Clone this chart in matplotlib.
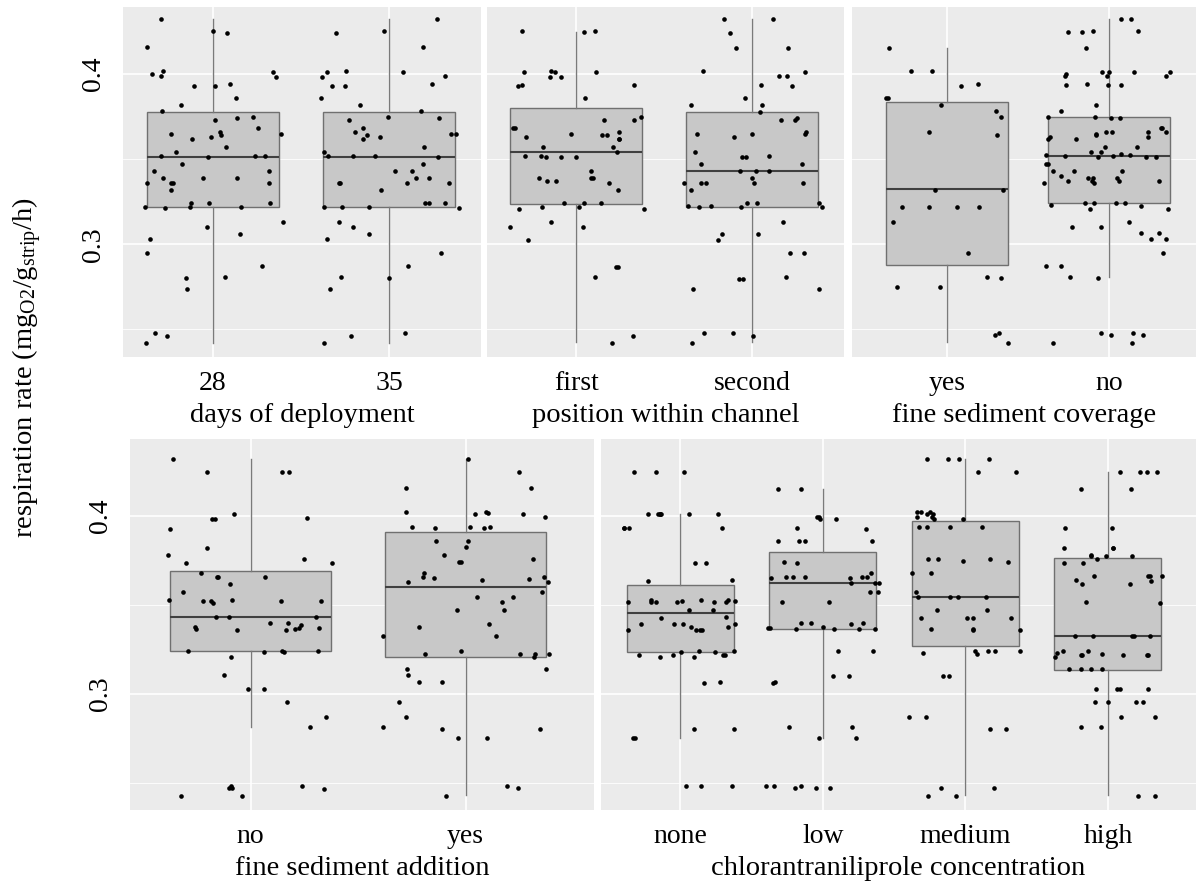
import numpy as np
import matplotlib
matplotlib.use("Agg")
import matplotlib.pyplot as plt

plt.rcParams['font.family'] = ['Liberation Serif', 'DejaVu Serif']
plt.rcParams['mathtext.fontset'] = 'custom'
plt.rcParams['mathtext.rm'] = 'Liberation Serif'
plt.rcParams['mathtext.it'] = 'Liberation Serif:italic'

# ---- data: respiration rate per group ----
days_28 = [0.432, 0.425, 0.424, 0.416, 0.402, 0.401, 0.400, 0.399, 0.398, 0.394, 0.393, 0.393,
           0.386, 0.382, 0.378, 0.375, 0.374, 0.373, 0.368, 0.366, 0.365, 0.365, 0.364, 0.363,
           0.362, 0.357, 0.354, 0.352, 0.352, 0.352, 0.351, 0.347, 0.343, 0.343, 0.339, 0.339,
           0.339, 0.336, 0.336, 0.336, 0.336, 0.332, 0.324, 0.324, 0.324, 0.322, 0.322, 0.322,
           0.321, 0.313, 0.310, 0.306, 0.303, 0.295, 0.287, 0.281, 0.280, 0.274, 0.248, 0.246, 0.242]
days_35 = [0.432, 0.425, 0.424, 0.416, 0.402, 0.401, 0.401, 0.399, 0.398, 0.394, 0.393, 0.393,
           0.386, 0.382, 0.378, 0.375, 0.374, 0.373, 0.368, 0.366, 0.365, 0.365, 0.364, 0.363,
           0.362, 0.357, 0.354, 0.352, 0.352, 0.352, 0.351, 0.347, 0.343, 0.343, 0.339, 0.339,
           0.336, 0.336, 0.336, 0.336, 0.332, 0.324, 0.324, 0.324, 0.322, 0.322, 0.322, 0.321,
           0.313, 0.310, 0.306, 0.303, 0.295, 0.287, 0.281, 0.280, 0.274, 0.248, 0.246, 0.242]

pos_first = [0.425, 0.4245, 0.425, 0.402, 0.401, 0.401, 0.401, 0.398, 0.398, 0.3935, 0.3935,
             0.393, 0.386, 0.375, 0.373, 0.373, 0.368, 0.366, 0.364, 0.363, 0.365, 0.368, 0.362,
             0.364, 0.362, 0.357, 0.357, 0.354, 0.352, 0.352, 0.351, 0.351, 0.3515, 0.343, 0.339,
             0.339, 0.339, 0.337, 0.336, 0.337, 0.332, 0.324, 0.324, 0.324, 0.322, 0.322, 0.3205,
             0.3205, 0.313, 0.310, 0.310, 0.3025, 0.2865, 0.2865, 0.281, 0.246, 0.242]
pos_second = [0.432, 0.432, 0.424, 0.4155, 0.4155, 0.402, 0.401, 0.399, 0.399, 0.3935, 0.393,
              0.386, 0.382, 0.382, 0.3775, 0.374, 0.373, 0.373, 0.365, 0.366, 0.365, 0.365,
              0.363, 0.354, 0.352, 0.3515, 0.351, 0.347, 0.347, 0.343, 0.343, 0.343, 0.339,
              0.336, 0.336, 0.336, 0.336, 0.336, 0.332, 0.324, 0.324, 0.3225, 0.322, 0.324,
              0.322, 0.322, 0.3225, 0.313, 0.306, 0.306, 0.3025, 0.295, 0.295, 0.2796, 0.2796,
              0.281, 0.274, 0.274, 0.248, 0.248, 0.246, 0.242]

cov_yes = [0.4155, 0.402, 0.402, 0.394, 0.393, 0.386, 0.386, 0.382, 0.378, 0.375, 0.366, 0.364,
           0.332, 0.332, 0.322, 0.322, 0.322, 0.322, 0.313, 0.295, 0.281, 0.280, 0.275, 0.275,
           0.248, 0.2466, 0.242]
cov_no = [0.432, 0.432, 0.425, 0.4245, 0.4245, 0.425, 0.4155, 0.401, 0.401, 0.401, 0.401, 0.400,
          0.399, 0.399, 0.399, 0.3935, 0.394, 0.3935, 0.3935, 0.382, 0.378, 0.375, 0.375, 0.374,
          0.374, 0.368, 0.368, 0.366, 0.366, 0.366, 0.366, 0.365, 0.364, 0.363, 0.363, 0.362,
          0.362, 0.357, 0.357, 0.354, 0.354, 0.3524, 0.352, 0.3524, 0.353, 0.352, 0.3515, 0.3515,
          0.3515, 0.347, 0.347, 0.343, 0.343, 0.343, 0.340, 0.339, 0.339, 0.339, 0.337, 0.337,
          0.337, 0.337, 0.336, 0.336, 0.3245, 0.324, 0.323, 0.324, 0.324, 0.3225, 0.3205, 0.3205,
          0.313, 0.310, 0.310, 0.3065, 0.3065, 0.303, 0.303, 0.295, 0.287, 0.287, 0.281, 0.280,
          0.248, 0.248, 0.247, 0.2466, 0.242, 0.242]

add_no = [0.432, 0.4245, 0.425, 0.4245, 0.401, 0.3985, 0.399, 0.3985, 0.393, 0.382, 0.378, 0.376,
          0.3736, 0.3736, 0.368, 0.366, 0.366, 0.366, 0.362, 0.3575, 0.353, 0.353, 0.352, 0.352,
          0.351, 0.352, 0.352, 0.343, 0.343, 0.343, 0.340, 0.339, 0.340, 0.3375, 0.3367, 0.3365,
          0.336, 0.337, 0.337, 0.336, 0.3242, 0.3243, 0.3234, 0.3234, 0.3243, 0.321, 0.3107,
          0.303, 0.303, 0.2955, 0.2873, 0.2813, 0.2483, 0.2474, 0.2464, 0.247, 0.2483, 0.2427, 0.2429]
add_yes = [0.432, 0.425, 0.4155, 0.4155, 0.4024, 0.4017, 0.4024, 0.4013, 0.4013, 0.3993, 0.394,
           0.394, 0.3933, 0.3936, 0.3933, 0.386, 0.386, 0.3824, 0.378, 0.3758, 0.374, 0.374, 0.368,
           0.3655, 0.3655, 0.3652, 0.3644, 0.364, 0.3629, 0.3629, 0.3575, 0.3545, 0.3545, 0.3517,
           0.347, 0.347, 0.3393, 0.3375, 0.3326, 0.3326, 0.3242, 0.3223, 0.3223, 0.3223, 0.3223,
           0.321, 0.3139, 0.3139, 0.3107, 0.3067, 0.3067, 0.2955, 0.2873, 0.2813, 0.2805, 0.2805,
           0.2751, 0.2751, 0.2483, 0.247, 0.2429]

conc_none = [0.425, 0.425, 0.425, 0.401, 0.401, 0.401, 0.401, 0.401, 0.401, 0.401, 0.3934, 0.3934,
             0.3934, 0.3934, 0.3736, 0.3734, 0.3639, 0.3637, 0.3526, 0.3526, 0.3522, 0.3526,
             0.3517, 0.3517, 0.3517, 0.3517, 0.3517, 0.3522, 0.3517, 0.347, 0.347, 0.3431, 0.3427,
             0.3393, 0.3393, 0.3393, 0.3393, 0.3375, 0.3361, 0.3361, 0.3361, 0.3361, 0.3375,
             0.3242, 0.3242, 0.3238, 0.3238, 0.3217, 0.3217, 0.3217, 0.3217, 0.321, 0.3206,
             0.3066, 0.3064, 0.2803, 0.2801, 0.2751, 0.2751, 0.2483, 0.2483, 0.2483]
conc_low = [0.4152, 0.4152, 0.3994, 0.3981, 0.3994, 0.3981, 0.3931, 0.3929, 0.386, 0.386, 0.386,
            0.386, 0.374, 0.3738, 0.3682, 0.3657, 0.3655, 0.3654, 0.3655, 0.3659, 0.3655, 0.3654,
            0.3624, 0.3624, 0.3624, 0.3575, 0.3573, 0.3515, 0.3515, 0.3397, 0.3397, 0.3397,
            0.3376, 0.3373, 0.3369, 0.3363, 0.3363, 0.3395, 0.3367, 0.3363, 0.324, 0.324, 0.3103,
            0.3103, 0.3066, 0.3064, 0.2816, 0.2813, 0.2751, 0.2751, 0.2483, 0.247, 0.247, 0.2483,
            0.247, 0.2483]
conc_medium = [0.432, 0.432, 0.432, 0.432, 0.425, 0.425, 0.4021, 0.4021, 0.4021, 0.4011, 0.4011,
               0.3994, 0.3994, 0.3983, 0.3983, 0.394, 0.394, 0.394, 0.394, 0.3758, 0.3758, 0.3749,
               0.374, 0.3758, 0.3682, 0.3682, 0.3575, 0.3547, 0.3547, 0.3547, 0.3547, 0.347, 0.347,
               0.3429, 0.3429, 0.3429, 0.3429, 0.3363, 0.3367, 0.3361, 0.3361, 0.3242, 0.3242,
               0.3242, 0.3242, 0.3228, 0.3225, 0.3103, 0.3103, 0.2873, 0.2873, 0.2803, 0.2801,
               0.247, 0.247, 0.2429, 0.2427]
conc_high = [0.4245, 0.4245, 0.4245, 0.4245, 0.4152, 0.4152, 0.3931, 0.3931, 0.382, 0.382, 0.382,
             0.3781, 0.3777, 0.3777, 0.3777, 0.3758, 0.3736, 0.3734, 0.3661, 0.3661, 0.3661,
             0.3661, 0.3637, 0.364, 0.3618, 0.3616, 0.3517, 0.3513, 0.3324, 0.3324, 0.3324, 0.3324,
             0.3324, 0.3243, 0.3243, 0.3228, 0.3225, 0.3219, 0.3219, 0.3219, 0.3219, 0.3219,
             0.3206, 0.3139, 0.3139, 0.3139, 0.3139, 0.3028, 0.3028, 0.3028, 0.3026, 0.2955,
             0.2955, 0.2955, 0.2955, 0.2873, 0.2873, 0.2816, 0.2813, 0.2429, 0.2429]

# box statistics: lower whisker, q1, median, q3, upper whisker
days_labels = ['28', '35']
days_box = [[0.2423, 0.3221, 0.3515, 0.3775, 0.4321],
            [0.2423, 0.3221, 0.3515, 0.3775, 0.4323]]
pos_labels = ['first', 'second']
pos_box = [[0.2425, 0.3237, 0.3542, 0.3802, 0.4249],
           [0.2425, 0.3217, 0.3429, 0.3775, 0.4323]]
cov_labels = ['yes', 'no']
cov_box = [[0.2425, 0.2879, 0.3323, 0.3838, 0.4151],
           [0.2806, 0.3245, 0.3521, 0.3746, 0.4323]]
add_labels = ['no', 'yes']
add_box = [[0.2813, 0.3243, 0.3433, 0.3693, 0.4320],
           [0.2431, 0.3210, 0.3603, 0.3910, 0.4320]]
conc_labels = ['none', 'low', 'medium', 'high']
conc_box = [[0.2751, 0.3238, 0.3453, 0.3610, 0.4011],
            [0.2751, 0.3363, 0.3624, 0.3796, 0.4152],
            [0.2431, 0.3272, 0.3547, 0.3972, 0.4320],
            [0.2431, 0.3137, 0.3324, 0.3764, 0.4245]]

W, H = 1196, 883
fig = plt.figure(figsize=(W / 100, H / 100), dpi=100)
rng = np.random.default_rng(11)


def add_panel(rect, groups, labels, box, xlim, ylim, xlabel, show_y):
    x0, y0, x1, y1 = rect
    ax = fig.add_axes([x0 / W, 1 - y1 / H, (x1 - x0) / W, (y1 - y0) / H])
    ax.set_facecolor('#EBEBEB')
    for s in ax.spines.values():
        s.set_visible(False)
    pos = np.arange(1, len(labels) + 1)
    for yv in [0.25, 0.35]:
        ax.axhline(yv, color='white', lw=0.6, zorder=0)
    for yv in [0.3, 0.4]:
        ax.axhline(yv, color='white', lw=1.2, zorder=0)
    for p in pos:
        ax.axvline(p, color='white', lw=1.2, zorder=0)
    stats = [dict(whislo=b[0], q1=b[1], med=b[2], q3=b[3], whishi=b[4]) for b in box]
    ax.bxp(stats, positions=pos, widths=0.75, patch_artist=True, showfliers=False,
           showcaps=False,
           boxprops=dict(facecolor='#C8C8C8', edgecolor='#707070', lw=1.0),
           medianprops=dict(color='#404040', lw=1.5),
           whiskerprops=dict(color='#7A7A7A', lw=1.0))
    for p, vals in zip(pos, groups):
        xs = p + rng.uniform(-0.4, 0.4, len(vals))
        ax.scatter(xs, vals, s=11, color='black', linewidths=0, zorder=4)
    ax.set_xlim(*xlim)
    ax.set_ylim(*ylim)
    ax.set_xticks(pos)
    ax.set_xticklabels(labels, fontsize=20)
    ax.set_yticks([0.3, 0.4])
    ax.tick_params(length=0)
    ax.tick_params(axis='x', pad=10)
    if show_y:
        ax.set_yticklabels(['0.3', '0.4'], fontsize=20, rotation=90, va='center')
        ax.tick_params(axis='y', pad=12)
    else:
        ax.set_yticklabels([])
    ax.set_xlabel(xlabel, fontsize=20.5, labelpad=5)
    return ax


top_ylim = (0.2338, 0.4393)
bot_ylim = (0.2348, 0.4433)

add_panel((123, 7, 481, 357), [days_28, days_35], days_labels, days_box,
          (0.489, 2.523), top_ylim, 'days of deployment', True)
add_panel((487, 7, 844, 357), [pos_first, pos_second], pos_labels, pos_box,
          (0.494, 2.52), top_ylim, 'position within channel', False)
add_panel((852, 7, 1196, 357), [cov_yes, cov_no], cov_labels, cov_box,
          (0.414, 2.537), top_ylim, 'fine sediment coverage', False)
add_panel((130, 439, 594, 810), [add_no, add_yes], add_labels, add_box,
          (0.439, 2.597), bot_ylim, 'fine sediment addition', True)
add_panel((601, 439, 1196, 810), [conc_none, conc_low, conc_medium, conc_high], conc_labels,
          conc_box, (0.446, 4.617), bot_ylim, 'chlorantraniliprole concentration', False)

fig.text(27 / W, 1 - 368 / H,
         r'respiration rate (mg$_{\mathrm{O2}}$/g$_{\mathrm{strip}}$/h)',
         rotation=90, ha='center', va='center', fontsize=20.5)

fig.savefig('out.png', dpi=100)
